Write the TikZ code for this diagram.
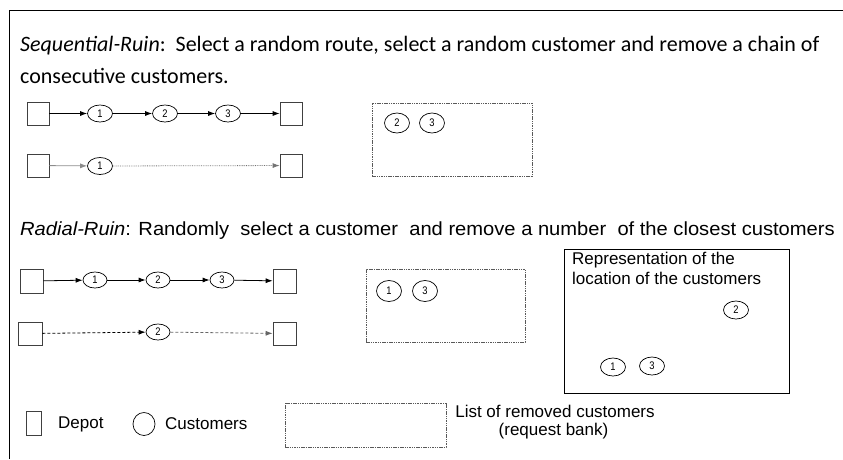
\documentclass[tikz,border=0pt]{standalone}
\usepackage{fontspec}
\setmainfont{Liberation Sans}
\newfontfamily\calfont{Carlito}
\usetikzlibrary{arrows.meta,shapes.geometric}
\newcommand\nx[2][0.85]{\scalebox{#1}[1]{#2}}
\begin{document}
\begin{tikzpicture}[x=1pt,y=-1pt,
 depot/.style={draw,rectangle,minimum width=22pt,minimum height=23pt,inner sep=0pt,line width=0.7pt,draw=black!75},
 cust/.style={draw,ellipse,minimum width=25pt,minimum height=17pt,inner sep=0pt,line width=0.7pt,font=\fontsize{11}{11}\selectfont},
 link/.style={-{Latex[length=7pt,width=5pt]}, line width=0.8pt},
 bank/.style={draw,rectangle,inner sep=0pt,dash pattern=on 1.5pt off 0.8pt, line width=0.8pt, draw=black!65},
 lbl/.style={inner sep=0pt,font=\fontsize{17}{20}\selectfont}
]
\useasboundingbox (0,0) rectangle (843,459);
\draw[line width=0.8pt] (9,459) -- (9,10) -- (843,10);

% Sequential ruin
\node[inner sep=0pt,anchor=west,font=\calfont\fontsize{22}{26}\selectfont] (seqa) at (20,46) {\textit{Sequential-Ruin}:\ \ Select a random route, select a random customer and remove a chain of};
\node[inner sep=0pt,anchor=west,font=\calfont\fontsize{22}{26}\selectfont] (seqb) at (20,76) {consecutive customers.};

\node[depot] (sd1) at (38,113.5) {};
\node[cust] (sc1) at (100,113.5) {\nx{1}};
\node[cust] (sc2) at (165,113.5) {\nx{2}};
\node[cust] (sc3) at (228,113.5) {\nx{3}};
\node[depot] (sd2) at (291,113.5) {};
\draw[link] (sd1) -- (sc1);
\draw[link] (sc1) -- (sc2);
\draw[link] (sc2) -- (sc3);
\draw[link] (sc3) -- (sd2);

\node[depot] (sd3) at (38,165.5) {};
\node[cust] (sc4) at (100,166) {\nx{1}};
\node[depot] (sd4) at (291,165.5) {};
\draw[link,draw=black!45] (sd3) -- (sc4);
\draw[link,densely dotted,draw=black!55] (sc4) -- (sd4);

\node[bank,minimum width=160pt,minimum height=73pt] (sbank) at (452,139.5) {};
\node[cust,minimum height=20pt] (sb2) at (397,123) {\nx{2}};
\node[cust,minimum height=20pt] (sb3) at (432,123) {\nx{3}};

% Radial ruin
\node[inner sep=0pt,anchor=west,font=\fontsize{19}{22}\selectfont] (rad) at (20,231) {\nx[1.06]{\textit{Radial-Ruin}: Randomly\ \ select a customer\ \ and remove a number\ \ of the closest customers}};

\node[depot,minimum width=23pt,minimum height=24pt] (rd1) at (31.5,281) {};
\node[cust,minimum width=24pt,minimum height=16pt] (rc1) at (95,280) {\nx{1}};
\node[cust,minimum width=24pt,minimum height=16pt] (rc2) at (158,280) {\nx{2}};
\node[cust,minimum width=24pt,minimum height=16pt] (rc3) at (222,280) {\nx{3}};
\node[depot,minimum width=23pt,minimum height=24pt] (rd2) at (284.5,281) {};
\draw[link] (rd1) -- (rc1);
\draw[link] (rc1) -- (rc2);
\draw[link] (rc2) -- (rc3);
\draw[link] (rc3) -- (rd2);

\node[depot,minimum width=24pt,minimum height=23pt] (rd3) at (30,333.5) {};
\node[cust,minimum width=24pt,minimum height=16pt] (rc4) at (158,332) {\nx{2}};
\node[depot,minimum width=23pt,minimum height=23pt] (rd4) at (284.5,333.5) {};
\draw[link,densely dashed] (rd3) -- (rc4);
\draw[link,densely dashed,draw=black!60] (rc4) -- (rd4);

\node[bank,minimum width=159pt,minimum height=73pt] (rbank) at (445.5,305.5) {};
\node[cust,minimum height=21pt] (rb1) at (389,291) {\nx{1}};
\node[cust,minimum height=21pt] (rb3) at (425,291) {\nx{3}};

\node[draw,rectangle,inner sep=0pt,minimum width=225pt,minimum height=144pt,line width=0.8pt] (rep) at (676.5,321) {};
\node[lbl,anchor=north west,align=left] (reptxt) at (572,252) {Representation of the\\location of the customers};
\node[cust,minimum height=18pt] (l2) at (736,310) {\nx{2}};
\node[cust,minimum height=18pt] (l1) at (613,367) {\nx{1}};
\node[cust,minimum height=18pt] (l3) at (652,366) {\nx{3}};

% Legend
\node[depot,minimum width=15pt,minimum height=24pt] (ldep) at (34,423) {};
\node[lbl,anchor=west] (ldeptxt) at (58,424) {Depot};
\node[draw,ellipse,inner sep=0pt,minimum width=22pt,minimum height=23pt,line width=0.7pt] (lcust) at (144,424) {};
\node[lbl,anchor=west] (lcusttxt) at (165,424) {Customers};
\node[bank,minimum width=161pt,minimum height=44pt] (lbank) at (365.5,425) {};
\node[lbl] (lbanktxt1) at (555,411) {List of removed customers};
\node[lbl] (lbanktxt2) at (553.5,431) {(request bank)};
\end{tikzpicture}
\end{document}
